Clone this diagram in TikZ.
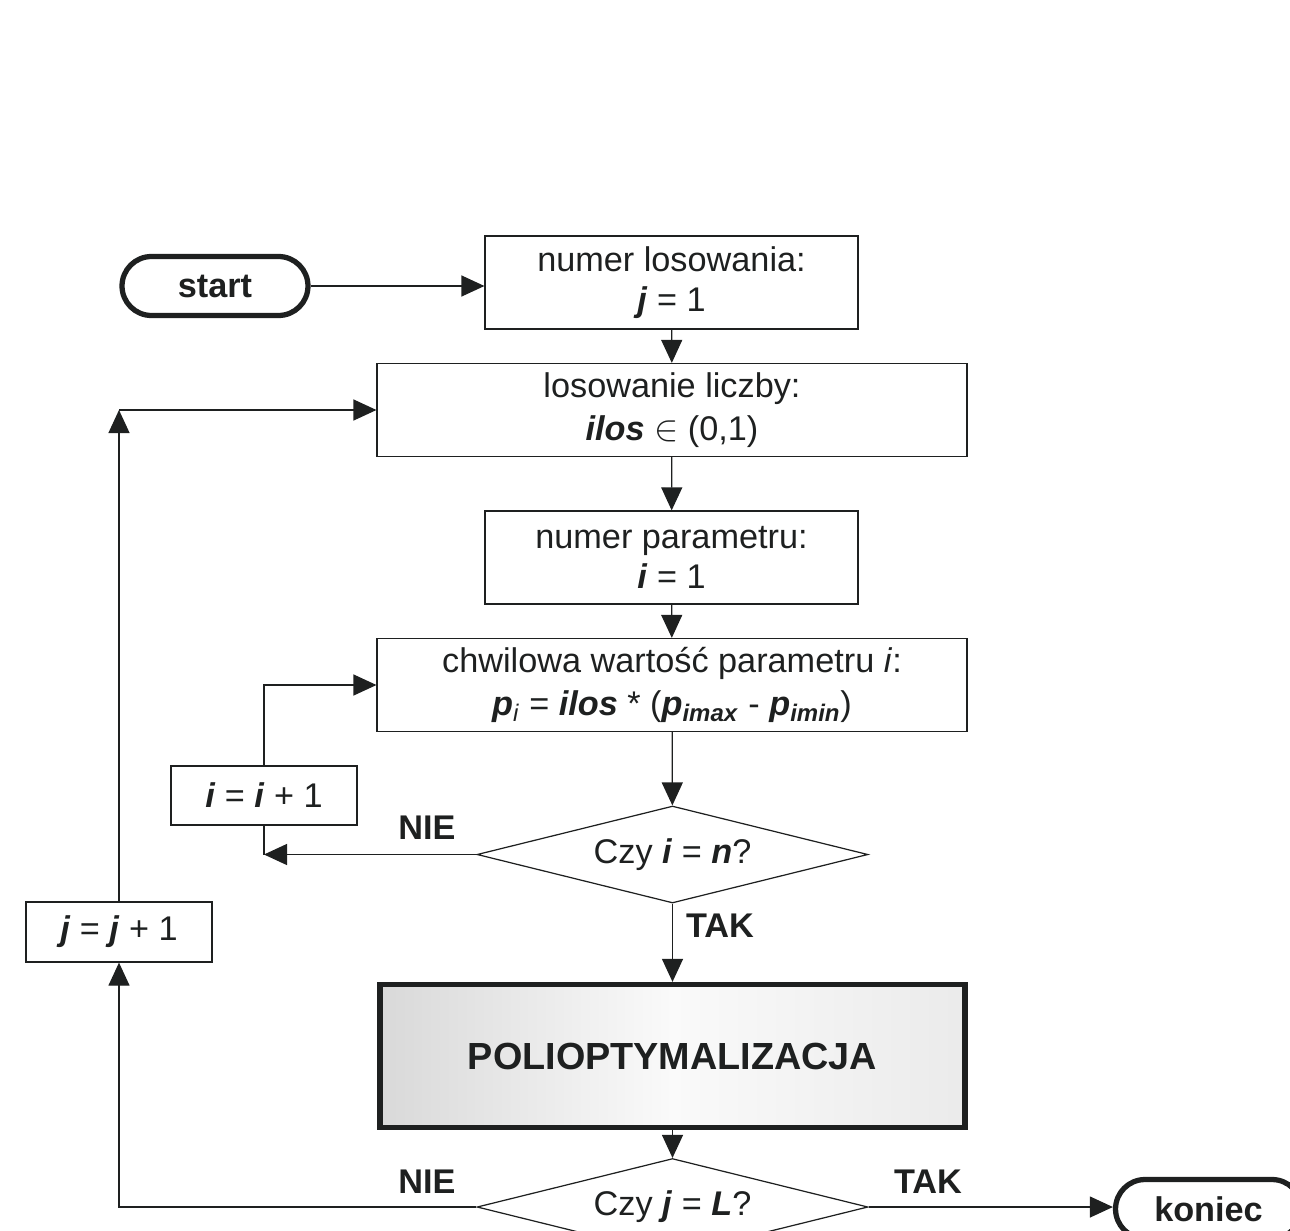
\documentclass[tikz,border=0pt]{standalone}
\usepackage{fontspec}
\setmainfont{Liberation Sans}
\usepackage{xcolor}
\usetikzlibrary{shapes.geometric,arrows.meta,positioning}
\definecolor{ink}{RGB}{30,32,32}
\newcommand{\bivar}[1]{\textbf{\textit{#1}}}
\tikzset{
  base/.style={text=ink, draw=ink, font=\fontsize{19.5}{22.5}\selectfont, align=center, inner sep=0pt},
  proc/.style={base, rectangle, line width=0.7pt, minimum height=1.86cm},
  term/.style={base, rectangle, rounded corners=0.59cm, line width=3pt, minimum width=3.72cm, minimum height=1.18cm, font=\fontsize{19.5}{22.5}\selectfont\bfseries},
  decis/.style={base, diamond, aspect=4, line width=0.7pt, minimum width=7.82cm, minimum height=1.94cm},
  lbl/.style={text=ink, font=\fontsize{19.5}{22.5}\selectfont\bfseries},
  flow/.style={draw=ink, line width=0.7pt, -{Triangle[length=0.46cm,width=0.42cm]}},
}
\begin{document}
\begin{tikzpicture}[x=0.02cm, y=-0.02cm]
	\useasboundingbox (0,0) rectangle (1290,1230);
	% Define nodes
	\node[term]                      (start) at (215,286)    {start};
	\node[proc, minimum width=7.46cm] (los)   at (671.5,282.5) {numer losowania:\\ \bivar{j} = 1};
	\node[proc, minimum width=11.8cm] (rnd)   at (672,410)    {losowanie liczby:\\[2pt] \bivar{ilos} $\in$ (0,1)};
	\node[proc, minimum width=7.46cm] (par)   at (671.5,557.5) {numer parametru:\\ \bivar{i} = 1};
	\node[proc, minimum width=11.8cm] (val)   at (672,685)    {chwilowa wartość parametru \textit{i}:\\[2pt] \bivar{p}\textsubscript{\textit{i}} = \bivar{ilos} * (\bivar{p}\textsubscript{\bivar{imax}} - \bivar{p}\textsubscript{\bivar{imin}})};
	\node[decis]                     (qi)    at (672.5,854.5) {Czy \bivar{i} = \bivar{n}?};
	\node[proc, minimum width=3.72cm, minimum height=1.18cm] (inci) at (264,795.5) {\bivar{i} = \bivar{i} + 1};
	\node[proc, minimum width=11.7cm, minimum height=2.86cm, line width=3pt,
	      left color=black!15, right color=black!8, middle color=black!2,
	      font=\fontsize{21.5}{24}\selectfont\bfseries] (opt) at (672.5,1056) {POLIOPTYMALIZACJA};
	\node[decis]                     (qj)    at (672.5,1207) {Czy \bivar{j} = \bivar{L}?};
	\node[proc, minimum width=3.72cm, minimum height=1.2cm] (incj) at (119,932) {\bivar{j} = \bivar{j} + 1};
	\node[term]                      (stop)  at (1208.5,1209) {koniec};
	% Labels
	\node[lbl] (nie1) at (427,828)  {NIE};
	\node[lbl] (tak1) at (720,926)  {TAK};
	\node[lbl] (nie2) at (427,1182) {NIE};
	\node[lbl] (tak2) at (928,1182) {TAK};
	% Connect the nodes
	\draw[flow] (start) -- (start -| los.west);
	\draw[flow] (los) -- (rnd);
	\draw[flow] (rnd) -- (par);
	\draw[flow] (par) -- (val);
	\draw[flow] (val) -- (qi);
	\draw[flow] (qi) -- (opt);
	\draw[flow] (opt) -- (qj);
	\draw[flow] (qj.east) -- (qj.east -| stop.west);
	% inner loop
	\draw[flow] (qi.west) -- (qi.west -| inci.south);
	\draw[draw=ink, line width=0.7pt] (inci.south) -- (qi.west -| inci.south);
	\draw[flow] (inci.north) |- (val.west);
	% outer loop
	\draw[flow] (qj.west) -| (incj.south);
	\draw[flow] (incj.north) -- (incj.north |- rnd.west);
	\draw[flow] (incj.north |- rnd.west) -- (rnd.west);
\end{tikzpicture}
\end{document}
